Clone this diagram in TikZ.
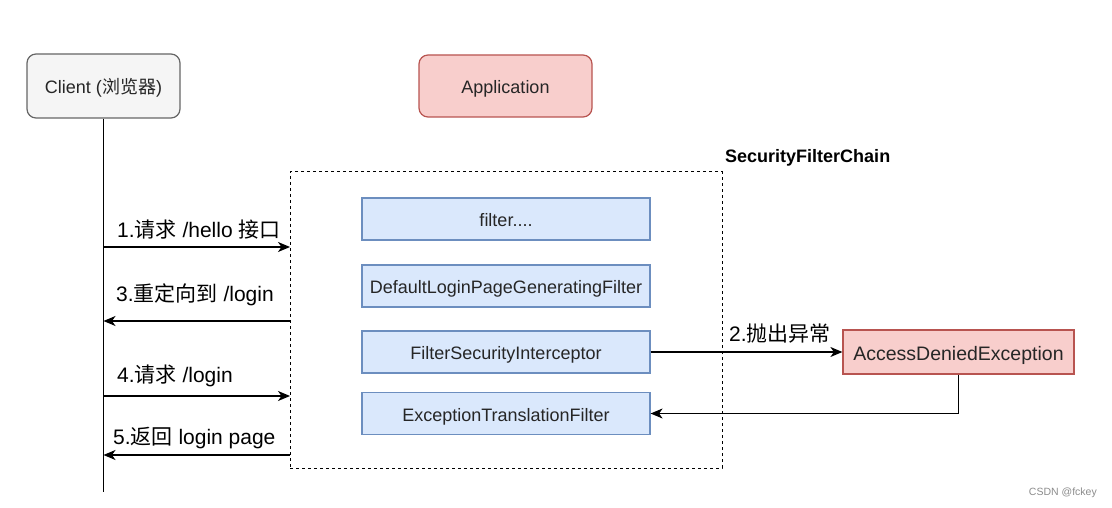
\documentclass[tikz,border=0pt]{standalone}
\usepackage{fontspec}
\setmainfont{Liberation Sans}
\newfontfamily\cjk{Noto Sans CJK SC}
\usetikzlibrary{arrows.meta,positioning}
\definecolor{greyfill}{HTML}{F5F5F5}
\definecolor{greyline}{HTML}{666666}
\definecolor{redfill}{HTML}{F8CECC}
\definecolor{redline}{HTML}{B85450}
\definecolor{bluefill}{HTML}{DAE8FC}
\definecolor{blueline}{HTML}{6C8EBF}
\tikzset{
  boxtext/.style={font=\fontsize{18}{20}\selectfont, text=black!85, text height=16pt, text depth=1pt},
  clientbox/.style={boxtext, draw=greyline, fill=greyfill, rounded corners=9pt, line width=1.2pt, inner sep=0pt},
  appbox/.style={boxtext, draw=redline, fill=redfill, rounded corners=9pt, line width=1.2pt, inner sep=0pt},
  filterbox/.style={boxtext, draw=blueline, fill=bluefill, line width=1.2pt, minimum width=288pt, minimum height=42pt, inner sep=0pt},
  excbox/.style={font=\fontsize{19.5}{21}\selectfont, text=black!85, text height=17pt, text depth=1pt, draw=redline, fill=redfill, line width=1.2pt, minimum width=231pt, minimum height=44pt, inner sep=0pt},
  msg/.style={line width=1.2pt, -{Stealth[length=12pt,width=10pt,inset=3.5pt]}},
  lbl/.style={font=\fontsize{21}{23}\selectfont, inner sep=0pt},
}
\begin{document}
\begin{tikzpicture}[x=1pt,y=-1pt]
\useasboundingbox[fill=white] (0,0) rectangle (1112,508);
% top boxes
\node[clientbox, minimum width=153pt, minimum height=64pt] (client) at (103.5,86) {Client ({\cjk 浏览器})};
\node[appbox, minimum width=173pt, minimum height=62pt] (app) at (505.5,86) {Application};
% lifeline
\coordinate (lifeend) at (103.5,492);
\draw[line width=1.2pt] (client.south) -- (lifeend);
% security filter chain
\node[draw, dashed, line width=1pt, minimum width=432pt, minimum height=296pt, inner sep=0pt] (chain) at (506,320) {};
\node[font=\bfseries\fontsize{18}{20}\selectfont, anchor=west, inner sep=0pt] (chainlbl) at (725,158) {SecurityFilterChain};
% filters
\node[filterbox] (f0) at (506,219) {filter....};
\node[filterbox] (f1) at (506,286) {DefaultLoginPageGeneratingFilter};
\node[filterbox] (f2) at (506,352) {FilterSecurityInterceptor};
\node[filterbox] (f3) at (506,413.5) {ExceptionTranslationFilter};
\node[excbox] (exc) at (958.5,352) {AccessDeniedException};
% client messages
\coordinate (c1) at (103.5,247);
\coordinate (d1) at (290,247);
\coordinate (c3) at (103.5,321);
\coordinate (d3) at (290,321);
\coordinate (c4) at (103.5,396);
\coordinate (d4) at (290,396);
\coordinate (c5) at (103.5,455);
\coordinate (d5) at (290,455);
\draw[msg] (c1) -- (d1);
\draw[msg] (d3) -- (c3);
\draw[msg] (c4) -- (d4);
\draw[msg] (d5) -- (c5);
\node[lbl, anchor=west] (l1) at (117,230) {1.{\cjk 请求} /hello {\cjk 接口}};
\node[lbl, anchor=west] (l3) at (116,295) {3.{\cjk 重定向到} /login};
\node[lbl, anchor=west] (l4) at (117,376) {4.{\cjk 请求} /login};
\node[lbl, anchor=west] (l5) at (113,438) {5.{\cjk 返回} login page};
% exception flow
\draw[msg] (f2.east) -- (exc.west);
\node[lbl, anchor=west] (l2) at (729,334) {2.{\cjk 抛出异常}};
\draw[msg] (exc.south) |- (f3.east);
% watermark
\node[font=\fontsize{10.5}{12}\selectfont, text=black!45, anchor=east, inner sep=0pt] (wm) at (1097,493) {CSDN @fckey};
\end{tikzpicture}
\end{document}
